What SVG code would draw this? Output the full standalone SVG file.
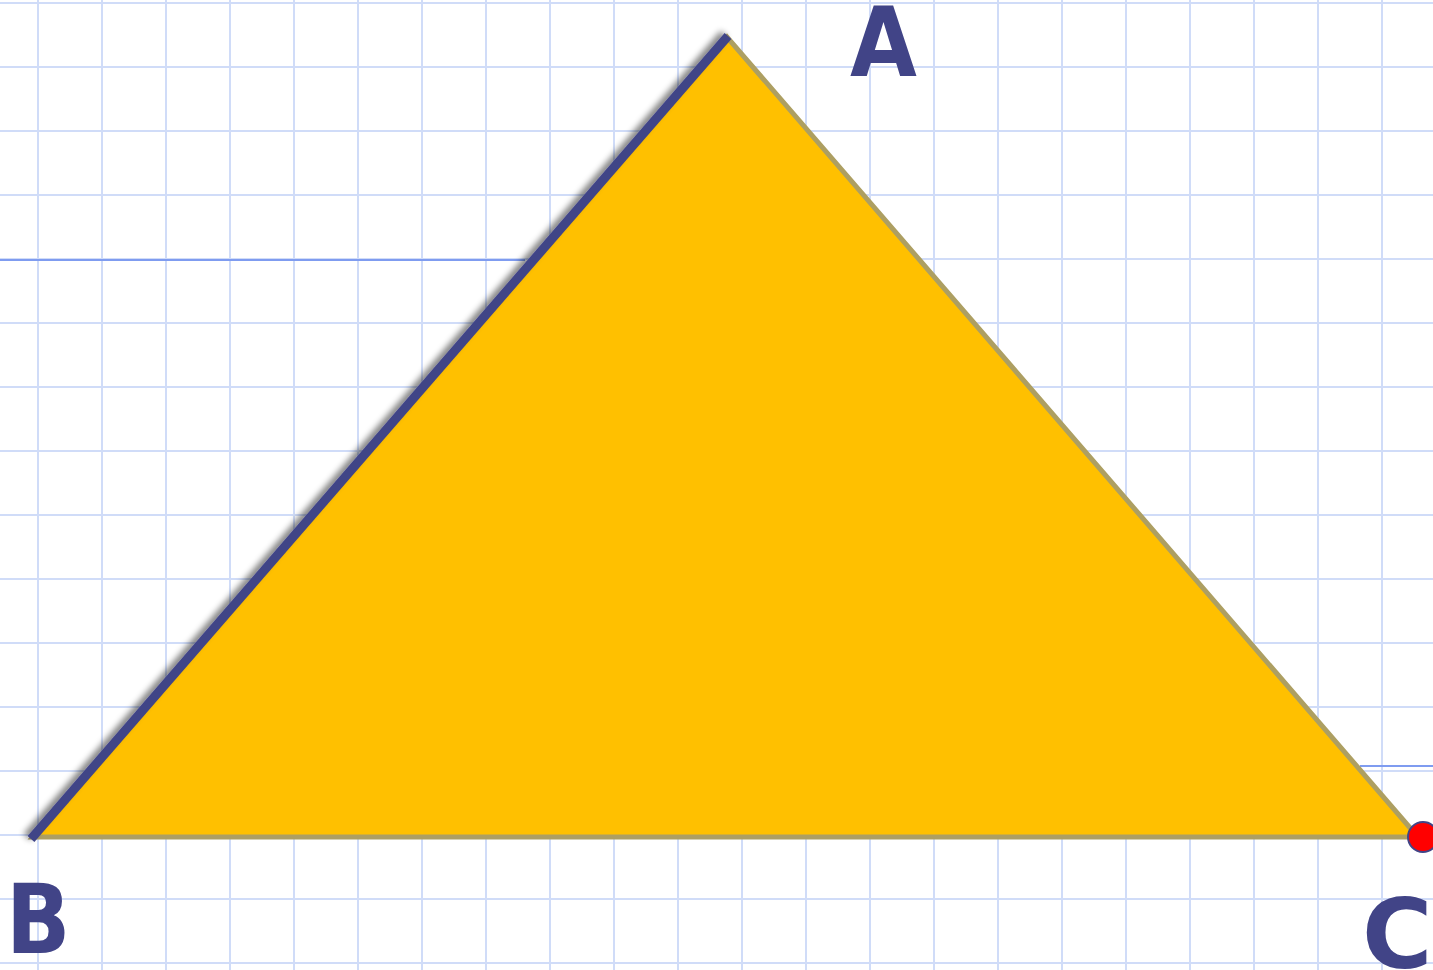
<svg xmlns="http://www.w3.org/2000/svg" width="1433" height="970" viewBox="0 0 1433 970">
<style>
.grid line{stroke:#d0dcf8;stroke-width:2}
.guide{stroke:#7f9cf0;stroke-width:2}
.lbl{font-family:"DejaVu Sans",Verdana,sans-serif;font-weight:bold;font-size:96px;fill:#414487}
</style>
<defs>
<filter id="sh" x="-10%" y="-10%" width="120%" height="120%">
<feGaussianBlur in="SourceAlpha" stdDeviation="3"/>
<feOffset dx="-4" dy="-2" result="b"/>
<feComponentTransfer><feFuncA type="linear" slope="0.5"/></feComponentTransfer>
<feMerge><feMergeNode/><feMergeNode in="SourceGraphic"/></feMerge>
</filter>
</defs>
<rect width="1433" height="970" fill="#ffffff"/>
<g class="grid">
<line x1="38" y1="0" x2="38" y2="970"/><line x1="102" y1="0" x2="102" y2="970"/><line x1="166" y1="0" x2="166" y2="970"/><line x1="230" y1="0" x2="230" y2="970"/><line x1="294" y1="0" x2="294" y2="970"/><line x1="358" y1="0" x2="358" y2="970"/><line x1="422" y1="0" x2="422" y2="970"/><line x1="486" y1="0" x2="486" y2="970"/><line x1="550" y1="0" x2="550" y2="970"/><line x1="614" y1="0" x2="614" y2="970"/><line x1="678" y1="0" x2="678" y2="970"/><line x1="742" y1="0" x2="742" y2="970"/><line x1="806" y1="0" x2="806" y2="970"/><line x1="870" y1="0" x2="870" y2="970"/><line x1="934" y1="0" x2="934" y2="970"/><line x1="998" y1="0" x2="998" y2="970"/><line x1="1062" y1="0" x2="1062" y2="970"/><line x1="1126" y1="0" x2="1126" y2="970"/><line x1="1190" y1="0" x2="1190" y2="970"/><line x1="1254" y1="0" x2="1254" y2="970"/><line x1="1318" y1="0" x2="1318" y2="970"/><line x1="1382" y1="0" x2="1382" y2="970"/>
<line x1="0" y1="3" x2="1433" y2="3"/><line x1="0" y1="67" x2="1433" y2="67"/><line x1="0" y1="131" x2="1433" y2="131"/><line x1="0" y1="195" x2="1433" y2="195"/><line x1="0" y1="259" x2="1433" y2="259"/><line x1="0" y1="323" x2="1433" y2="323"/><line x1="0" y1="387" x2="1433" y2="387"/><line x1="0" y1="451" x2="1433" y2="451"/><line x1="0" y1="515" x2="1433" y2="515"/><line x1="0" y1="579" x2="1433" y2="579"/><line x1="0" y1="643" x2="1433" y2="643"/><line x1="0" y1="707" x2="1433" y2="707"/><line x1="0" y1="771" x2="1433" y2="771"/><line x1="0" y1="835" x2="1433" y2="835"/><line x1="0" y1="899" x2="1433" y2="899"/><line x1="0" y1="963" x2="1433" y2="963"/>
</g>
<line class="guide" x1="0" y1="260" x2="525" y2="260"/>
<line class="guide" x1="1360" y1="766" x2="1433" y2="766"/>
<g id="triangle">
<polygon points="33,837 727,37 1418,837" fill="#ffc000" stroke="#ad9f62" stroke-width="5" stroke-linejoin="miter"/>
<line x1="31" y1="839" x2="728" y2="36" stroke="#414487" stroke-width="9" filter="url(#sh)"/>
</g>
<g id="pointC">
<circle cx="1423" cy="837" r="15" fill="#ff0000" stroke="#414487" stroke-width="2"/>
</g>
<g id="labels">
<text class="lbl" transform="matrix(0.9 0 0 1 850 76)">A</text>
<text class="lbl" transform="matrix(0.88 0 0 1 6 953)">B</text>
<text class="lbl" transform="matrix(1 0 0 1 1362 968)">C</text>
</g>
</svg>
